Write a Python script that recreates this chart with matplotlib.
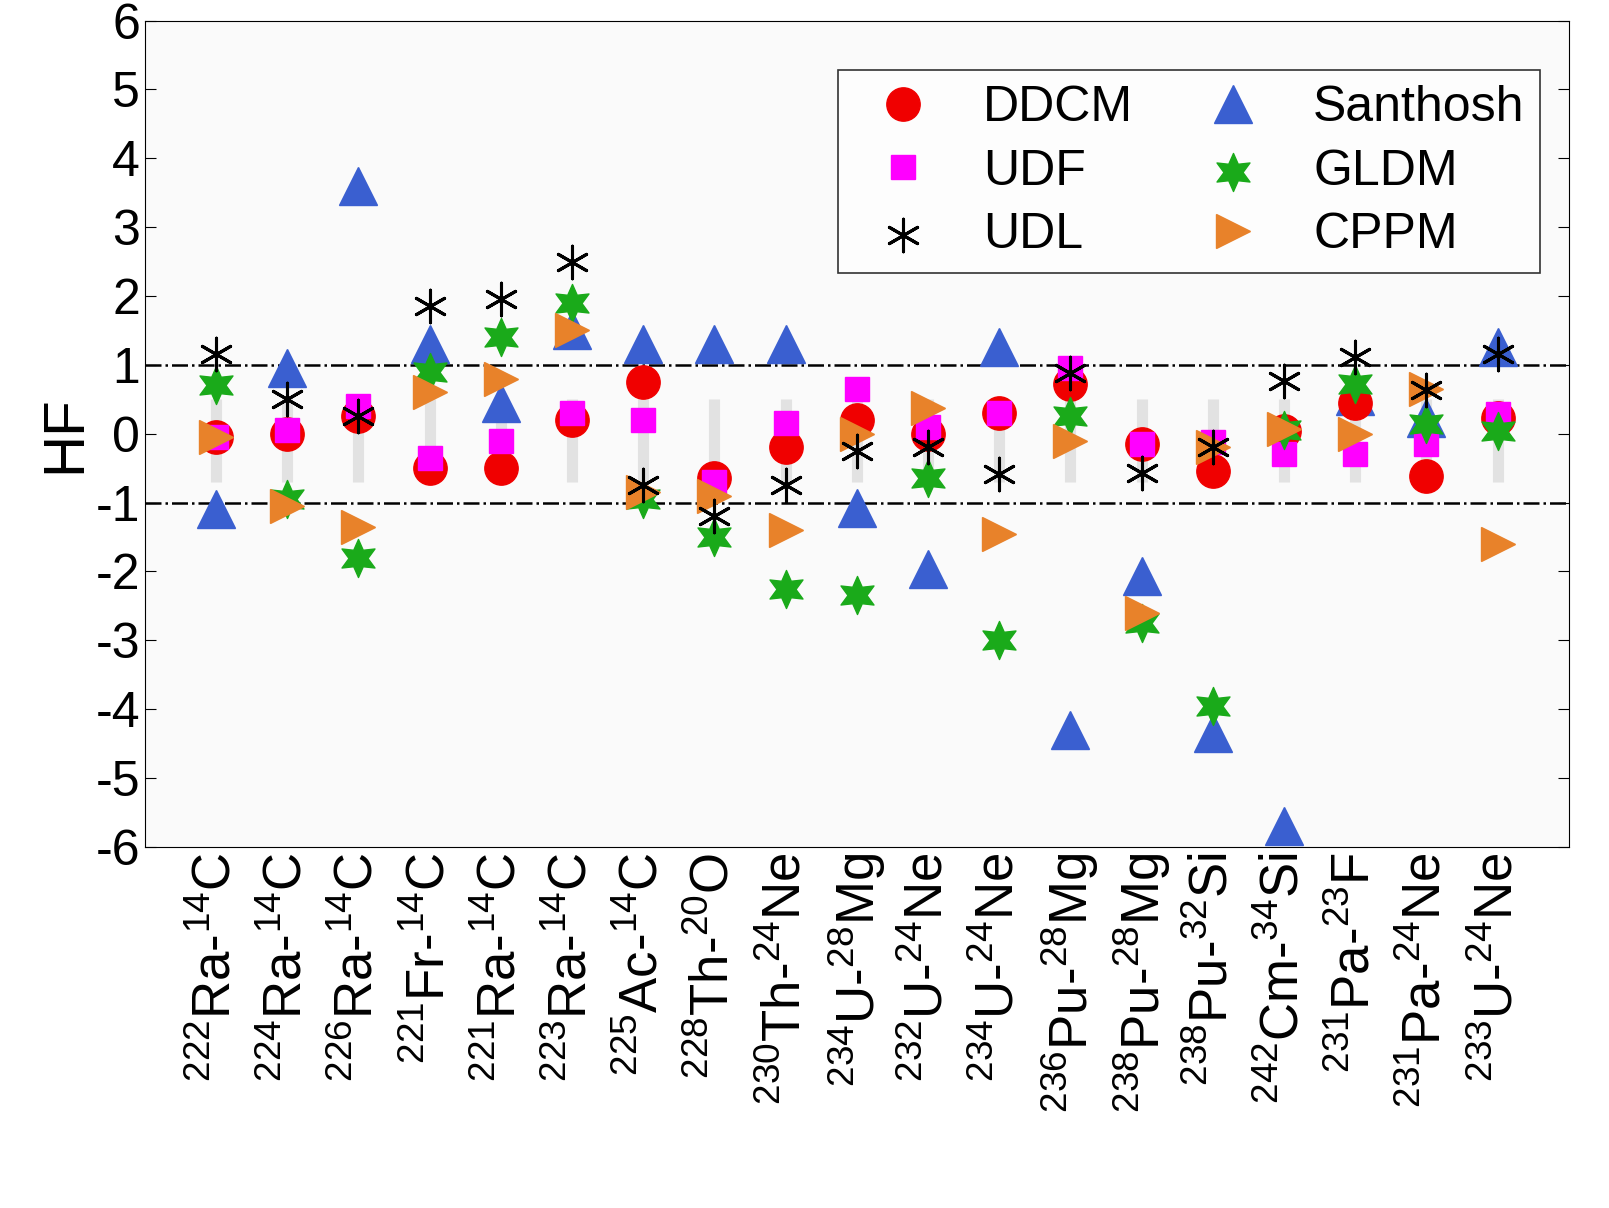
import numpy as np
import matplotlib
matplotlib.use("Agg")
import matplotlib.pyplot as plt

plt.rcParams['font.family'] = ['Liberation Sans', 'DejaVu Sans']
plt.rcParams['mathtext.fontset'] = 'custom'
plt.rcParams['mathtext.rm'] = 'Liberation Sans'
plt.rcParams['axes.unicode_minus'] = False

labels = [r'$^{222}$Ra-$^{14}$C', r'$^{224}$Ra-$^{14}$C', r'$^{226}$Ra-$^{14}$C',
          r'$^{221}$Fr-$^{14}$C', r'$^{221}$Ra-$^{14}$C', r'$^{223}$Ra-$^{14}$C',
          r'$^{225}$Ac-$^{14}$C', r'$^{228}$Th-$^{20}$O', r'$^{230}$Th-$^{24}$Ne',
          r'$^{234}$U-$^{28}$Mg', r'$^{232}$U-$^{24}$Ne', r'$^{234}$U-$^{24}$Ne',
          r'$^{236}$Pu-$^{28}$Mg', r'$^{238}$Pu-$^{28}$Mg', r'$^{238}$Pu-$^{32}$Si',
          r'$^{242}$Cm-$^{34}$Si', r'$^{231}$Pa-$^{23}$F', r'$^{231}$Pa-$^{24}$Ne',
          r'$^{233}$U-$^{24}$Ne']

ddcm = [-0.05, 0.0, 0.25, -0.5, -0.5, 0.2, 0.75, -0.65, -0.2, 0.2, 0.0, 0.3, 0.72, -0.15, -0.54, 0.04, 0.44, -0.61, 0.23]
udf = [-0.05, 0.05, 0.4, -0.35, -0.1, 0.3, 0.2, -0.7, 0.15, 0.65, 0.1, 0.3, 0.95, -0.15, -0.12, -0.3, -0.3, -0.15, 0.28]
udl = [1.15, 0.5, 0.25, 1.85, 1.95, 2.5, -0.75, -1.2, -0.75, -0.25, -0.2, -0.59, 0.88, -0.57, -0.2, 0.77, 1.12, 0.63, 1.15]
santhosh = [-1.1, 0.95, 3.6, 1.3, 0.45, 1.5, 1.3, 1.3, 1.3, -1.08, -1.97, 1.26, -4.3, -2.06, -4.35, -5.7, 0.55, 0.23, 1.26]
gldm = [0.7, -0.95, -1.8, 0.9, 1.4, 1.9, -0.95, -1.5, -2.25, -2.35, -0.64, -3.0, 0.25, -2.75, -3.95, 0.05, 0.72, 0.14, 0.04]
cppm = [-0.05, -1.05, -1.35, 0.6, 0.8, 1.5, -0.85, -0.9, -1.4, 0.0, 0.37, -1.45, -0.1, -2.6, -0.2, 0.07, 0.0, 0.65, -1.6]
bar_lo = -0.7
bar_hi = 0.5

x = np.arange(1, len(labels) + 1)

fig = plt.figure(figsize=(16.09, 12.08), dpi=100)
ax = fig.add_axes([0.09, 0.299, 0.885, 0.684])
ax.set_facecolor('#fafafa')

# faint gray bars
ax.vlines(x, bar_lo, bar_hi, color='#e2e2e2', lw=8, zorder=1)
ax.axhline(1, color='k', ls='-.', lw=1.8, zorder=2)
ax.axhline(-1, color='k', ls='-.', lw=1.8, zorder=2)

ax.plot(x, santhosh, '^', color='#3a5fd0', ms=27, ls='none', label='Santhosh', zorder=3)
ax.plot(x, ddcm, 'o', color='#f00000', ms=24, ls='none', label='DDCM', zorder=4)
ax.plot(x, udf, 's', color='#ff00ff', ms=17, ls='none', label='UDF', zorder=5)
ax.scatter(x, gldm, marker=(6, 1, 0), s=750, color='#1aaa1a', label='GLDM', zorder=6)
ax.plot(x, cppm, '>', color='#e8822a', ms=25, ls='none', label='CPPM', zorder=7)
ax.scatter(x, udl, marker=(6, 2, 0), s=550, color='k', lw=2.2, label='UDL', zorder=8)

ax.set_xlim(0, 20)
ax.set_ylim(-6, 6)
ax.set_yticks(range(-6, 7))
ax.set_xticks(x)
ax.set_xticklabels(labels, rotation=90, fontsize=38)
ax.tick_params(axis='y', labelsize=36, direction='in', length=8, right=True)
ax.tick_params(axis='x', direction='in', length=0, pad=4)
ax.set_ylabel('HF', fontsize=42, labelpad=2)

h, l = ax.get_legend_handles_labels()
d = dict(zip(l, h))
order = ['DDCM', 'UDF', 'UDL', 'Santhosh', 'GLDM', 'CPPM']
leg = ax.legend([d[k] for k in order], order, ncol=2, loc='upper right',
                fontsize=36, frameon=True, fancybox=False, edgecolor='k',
                bbox_to_anchor=(0.997, 0.97), handletextpad=0.6, columnspacing=1.0,
                labelspacing=0.35, borderpad=0.3)
leg.get_frame().set_linewidth(1.2)

fig.savefig('out.png', dpi=100)
